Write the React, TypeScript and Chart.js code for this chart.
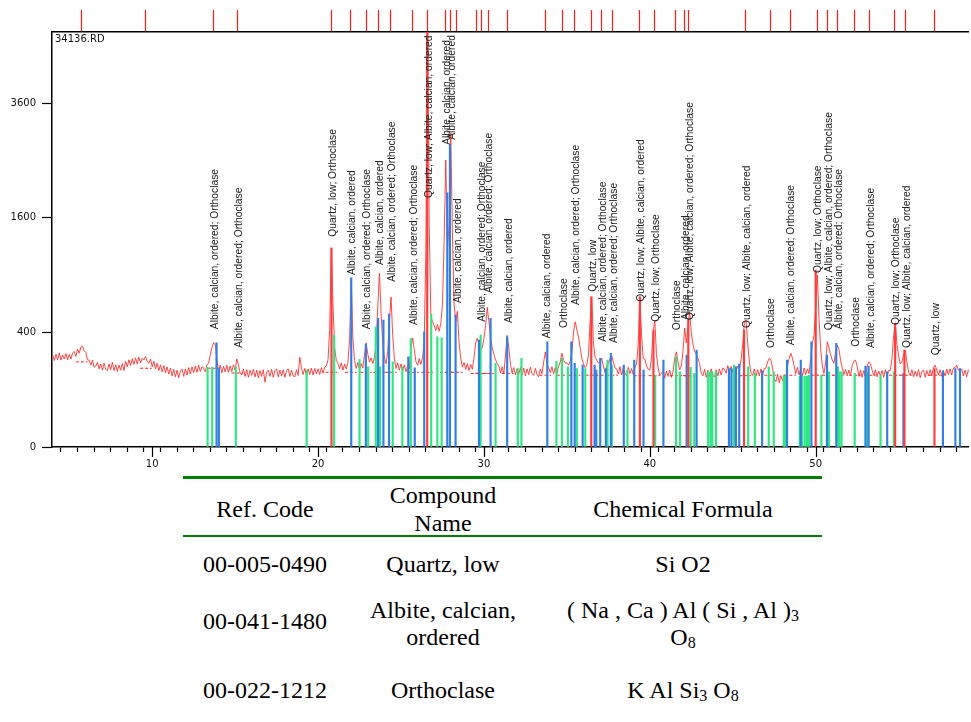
import React, { useEffect, useRef } from 'react';
import { Chart, registerables } from 'chart.js';

Chart.register(...registerables);

// ---- Scan (counts per 0.1 deg step, starting at 4.0 deg 2theta) ----
const SCAN_START = 4.0;
const SCAN_STEP = 0.1;
const scanFile = '34136.RD';

const scan04to13 = [
  258, 228, 262, 232, 270, 230, 258, 236, 266, 232,
  262, 236, 270, 278, 250, 292, 268, 304, 310, 282,
  272, 232, 230, 204, 230, 194, 200, 218, 186, 210,
  180, 214, 184, 178, 210, 182, 218, 178, 206, 174,
  204, 180, 212, 178, 224, 196, 232, 202, 238, 208,
  242, 210, 246, 216, 240, 230, 250, 222, 214, 236,
  196, 224, 186, 214, 178, 206, 172, 202, 168, 196,
  162, 190, 154, 184, 150, 180, 146, 176, 184, 152,
  186, 158, 192, 162, 196, 168, 200, 170, 204, 174,
  196, 190, 172, 206, 214, 258, 300, 332, 318, 232,
];
const scan14to23 = [
  176, 204, 168, 198, 172, 204, 170, 200, 174, 206,
  180, 236, 206, 168, 158, 186, 152, 182, 148, 180,
  156, 184, 150, 180, 146, 178, 152, 182, 128, 170,
  180, 152, 184, 148, 178, 186, 150, 180, 154, 182,
  148, 178, 186, 152, 180, 154, 150, 182, 156, 245,
  192, 160, 188, 154, 186, 160, 190, 158, 188, 162,
  186, 160, 192, 166, 194, 200, 232, 420, 1210, 620,
  300, 228, 212, 186, 216, 180, 210, 186, 218, 350,
  860, 360, 228, 188, 218, 182, 212, 190, 262, 330,
  262, 220, 242, 212, 246, 330, 600, 920, 545, 330,
];
const scan24to33 = [
  240, 212, 280, 480, 685, 380, 238, 188, 216, 180,
  210, 176, 206, 172, 202, 186, 300, 362, 290, 222,
  204, 238, 208, 242, 340, 1200, 6400, 1500, 520, 480,
  450, 414, 458, 408, 466, 620, 1300, 2510, 1200, 1500,
  3000, 1400, 620, 480, 560, 330, 242, 194, 218, 184,
  212, 178, 208, 184, 240, 330, 360, 320, 290, 300,
  360, 450, 595, 480, 360, 300, 262, 232, 212, 200,
  166, 196, 162, 260, 380, 300, 206, 168, 192, 158,
  188, 162, 192, 156, 190, 154, 186, 160, 194, 164,
  156, 188, 160, 150, 186, 164, 220, 276, 210, 190,
];
const scan34to43 = [
  168, 196, 164, 192, 166, 198, 220, 268, 230, 214,
  216, 204, 224, 270, 400, 478, 420, 370, 300, 240,
  210, 192, 204, 260, 480, 688, 330, 246, 230, 215,
  220, 240, 200, 170, 200, 210, 240, 257, 220, 190,
  186, 162, 196, 158, 192, 166, 154, 194, 164, 188,
  160, 192, 210, 320, 688, 380, 240, 236, 200, 185,
  180, 240, 400, 491, 260, 192, 156, 162, 180, 144,
  176, 152, 180, 148, 172, 240, 276, 220, 182, 200,
  280, 431, 330, 450, 557, 400, 320, 280, 260, 240,
  212, 166, 154, 184, 148, 180, 152, 186, 156, 150,
];
const scan44to53 = [
  182, 154, 186, 158, 190, 184, 166, 202, 174, 198,
  170, 204, 176, 200, 186, 230, 320, 470, 491, 330,
  220, 166, 156, 186, 152, 182, 154, 186, 158, 188,
  190, 220, 240, 230, 190, 142, 130, 162, 126, 156,
  134, 160, 130, 200, 240, 268, 240, 200, 164, 194,
  158, 188, 154, 190, 160, 186, 164, 240, 330, 380,
  600, 902, 500, 290, 200, 165, 220, 337, 300, 260,
  230, 214, 280, 316, 290, 230, 190, 160, 184, 154,
  180, 156, 200, 225, 230, 200, 152, 180, 148, 178,
  152, 200, 221, 210, 180, 156, 182, 150, 176, 154,
];
const scan54to59 = [
  178, 148, 182, 152, 178, 178, 240, 380, 468, 320,
  250, 210, 220, 260, 286, 220, 170, 156, 182, 150,
  176, 152, 182, 146, 174, 180, 148, 178, 154, 182,
  156, 190, 205, 180, 158, 182, 152, 178, 154, 184,
  160, 186, 158, 190, 192, 204, 180, 178, 186, 154,
  180, 150, 182, 156,
];

// ---- Peak list ----
const Q = 'Quartz, low';
const A = 'Albite, calcian, ordered';
const O = 'Orthoclase';

const peakPositions = [
  5.75, 9.62, 13.69, 15.13, 20.8, 21.97, 22.89, 23.67, 24.39, 25.72,
  26.58, 27.7, 28.0, 28.36, 29.55, 29.83, 30.25, 31.43, 33.7, 34.74,
  35.46, 36.48, 37.07, 37.73, 39.37, 40.27, 41.57, 42.11, 42.35, 45.75,
  47.25, 48.46, 50.08, 50.74, 51.34, 52.36, 53.27, 54.77, 55.43, 57.18,
];
const peakPhases = [
  [], [], [A, O], [A, O], [Q, O], [A], [A, O], [A], [A, O], [A, O],
  [Q, A], [A], [A], [A], [], [A, O], [A, O], [A], [A], [O],
  [A, O], [Q], [A, O], [A, O], [Q, A], [Q, O], [O], [A], [Q, A, O], [Q, A],
  [O], [A, O], [Q, O], [Q, A, O], [A, O], [O], [A, O], [Q, O], [Q, A], [Q],
];
const labelBaseCounts = [
  0, 0, 423, 300, 1348, 901, 423, 1009, 832, 453,
  1890, 2782, 2875, 631, 0, 478, 722, 468, 360, 431,
  614, 734, 337, 329, 643, 478, 416, 491, 491, 431,
  298, 316, 922, 416, 423, 306, 298, 453, 298, 257,
];
const peakBackground = [
  221, 189, 189, 167, 170, 170, 170, 170, 170, 170,
  170, 170, 170, 170, 165, 165, 165, 165, 157, 157,
  157, 157, 157, 157, 155, 155, 155, 155, 155, 155,
  157, 157, 157, 157, 157, 157, 157, 157, 157, 157,
];

// ---- Reference patterns ----
const quartzPositions = [20.81, 26.58, 36.47, 39.4, 40.22, 42.32, 45.68, 50.0, 54.79, 55.35, 57.16];
const quartzHeights = [1207, 5490, 688, 688, 416, 491, 416, 954, 468, 286, 188];

const albitePositions = [
  13.88, 14.02, 22.0, 22.88, 23.62, 23.94, 24.28, 25.44, 25.83, 26.4,
  27.79, 27.95, 28.29, 29.7, 30.4, 31.4, 33.82, 35.27, 35.47, 35.95,
  36.67, 36.77, 37.01, 37.35, 37.65, 38.43, 39.06, 39.62, 40.82, 42.22,
  42.82, 44.77, 44.92, 45.19, 45.39, 46.77, 48.27, 49.1, 49.74, 50.68,
  51.24, 53.0, 53.19, 54.31, 55.29, 57.67, 58.42, 58.7,
];
const albiteHeights = [
  331, 189, 873, 322, 504, 491, 538, 248, 191, 404,
  1967, 2782, 530, 348, 504, 370, 337, 337, 213, 204,
  204, 180, 239, 188, 267, 204, 230, 180, 230, 257,
  286, 188, 188, 196, 209, 177, 230, 230, 337, 257,
  327, 199, 199, 172, 165, 177, 188, 188,
];

const orthoclasePositions = [
  13.34, 13.62, 15.04, 19.31, 20.97, 22.5, 23.02, 23.48, 23.74, 24.5,
  25.08, 25.59, 26.82, 27.19, 27.45, 29.8, 30.7, 32.04, 32.26, 34.37,
  34.7, 35.06, 35.6, 36.11, 37.45, 37.71, 38.65, 40.32, 41.58, 41.82,
  42.46, 42.68, 43.52, 43.66, 43.76, 43.99, 45.07, 45.93, 46.33, 47.17,
  47.47, 48.08, 48.17, 49.04, 49.19, 49.34, 49.48, 49.6, 50.34, 50.8,
  51.34, 51.44, 51.56, 52.35, 53.1, 53.91, 54.71,
];
const orthoclaseHeights = [
  194, 194, 194, 180, 381, 233, 196, 440, 196, 221,
  196, 359, 538, 370, 363, 381, 213, 188, 239, 224,
  239, 196, 188, 188, 230, 204, 180, 157, 248, 172,
  193, 165, 172, 172, 172, 172, 204, 196, 165, 196,
  172, 153, 153, 153, 153, 153, 153, 157, 157, 172,
  196, 172, 172, 165, 172, 157, 172,
];

// ---- Axes ----
const X_MIN = 3.96;
const X_MAX = 59.22;
const Y_MAX_COUNTS = 5249;
const yTickCounts = [0, 400, 1600, 3600];
const xTickLabels = [10, 20, 30, 40, 50];

// ---- Phase table ----
const refCodes = ['00-005-0490', '00-041-1480', '00-022-1212'];
const compoundNames = [['Quartz, low'], ['Albite, calcian,', 'ordered'], ['Orthoclase']];
// even index = normal text, odd index = subscript
const formulaLines = [
  [['Si O2']],
  [['( Na , Ca ) Al ( Si , Al )', '3'], ['O', '8']],
  [['K Al Si', '3', ' O', '8']],
];

const sq = (v: number) => Math.sqrt(v);

function buildScan() {
  const counts = [...scan04to13, ...scan14to23, ...scan24to33, ...scan34to43, ...scan44to53, ...scan54to59];
  return counts.map((c, i) => ({ x: +(SCAN_START + i * SCAN_STEP).toFixed(2), y: sq(c) }));
}

function buildSticks(pos: number[], h: number[]) {
  return pos.map((p, i) => ({ x: p, y: sq(h[i]) }));
}

function buildBaselines() {
  const pts: { x: number; y: number | null }[] = [];
  peakPositions.forEach((p, i) => {
    const b = sq(peakBackground[i]);
    pts.push({ x: p - 0.35, y: b }, { x: p + 0.35, y: b }, { x: p + 0.36, y: null });
  });
  return pts;
}

const annotations = {
  id: 'xrdAnnotations',
  afterDraw(chart: any) {
    const { ctx, chartArea, scales } = chart;
    const xs = scales.x;
    const ys = scales.y;
    ctx.save();
    // longer marks at labelled x ticks
    ctx.strokeStyle = '#000';
    ctx.lineWidth = 1.2;
    xTickLabels.forEach((v) => {
      const px = Math.round(xs.getPixelForValue(v)) + 0.5;
      ctx.beginPath();
      ctx.moveTo(px, chartArea.bottom);
      ctx.lineTo(px, chartArea.bottom + 10);
      ctx.stroke();
    });
    // scan file name
    ctx.fillStyle = '#111';
    ctx.font = '10px "DejaVu Sans", sans-serif';
    ctx.textAlign = 'left';
    ctx.textBaseline = 'top';
    ctx.fillText(scanFile, chartArea.left + 3, chartArea.top + 2);
    // phase labels above peaks
    ctx.font = '10.3px "Liberation Sans", Arial, sans-serif';
    ctx.fillStyle = '#222';
    ctx.textBaseline = 'middle';
    peakPositions.forEach((p, i) => {
      const text = peakPhases[i].join('; ');
      if (!text) return;
      const px = xs.getPixelForValue(p) + 1.5;
      const py = ys.getPixelForValue(sq(labelBaseCounts[i]));
      ctx.save();
      ctx.translate(px, py);
      ctx.rotate(-Math.PI / 2);
      ctx.fillText(text, 0, 0);
      ctx.restore();
    });
    ctx.restore();
  },
};

const tickFont = { family: '"DejaVu Sans", sans-serif', size: 10 };

export default function App() {
  const canvasRef = useRef<HTMLCanvasElement>(null);

  useEffect(() => {
    const canvas = canvasRef.current;
    if (!canvas) return;
    const chart = new Chart(canvas, {
      type: 'line',
      data: {
        datasets: [
          {
            type: 'line',
            label: scanFile,
            data: buildScan(),
            borderColor: 'rgba(255,40,40,0.85)',
            borderWidth: 1,
            pointRadius: 0,
            tension: 0,
            order: 10,
          },
          {
            type: 'line',
            label: 'background',
            data: buildBaselines(),
            borderColor: '#ff2020',
            borderWidth: 1,
            borderDash: [3, 2],
            pointRadius: 0,
            spanGaps: false,
            order: 9,
          },
          {
            type: 'bar',
            label: O,
            data: buildSticks(orthoclasePositions, orthoclaseHeights),
            backgroundColor: '#2fe683',
            barThickness: 1.5,
            grouped: false,
            order: 3,
          },
          {
            type: 'bar',
            label: A,
            data: buildSticks(albitePositions, albiteHeights),
            backgroundColor: '#2f7fe6',
            barThickness: 1.5,
            grouped: false,
            order: 2,
          },
          {
            type: 'bar',
            label: Q,
            data: buildSticks(quartzPositions, quartzHeights),
            backgroundColor: '#ff3b3b',
            barThickness: 1.5,
            grouped: false,
            order: 1,
          },
        ] as any,
      },
      options: {
        responsive: false,
        animation: false,
        devicePixelRatio: 1,
        layout: { padding: 0 },
        plugins: { legend: { display: false }, tooltip: { enabled: false } },
        scales: {
          x: {
            type: 'linear',
            position: 'bottom',
            min: X_MIN,
            max: X_MAX,
            offset: false,
            afterBuildTicks: (s: any) => {
              const t = [];
              for (let v = Math.ceil(X_MIN); v <= Math.floor(X_MAX); v++) t.push({ value: v });
              s.ticks = t;
            },
            afterFit: (s: any) => {
              s.height = 28;
            },
            grid: { display: true, drawOnChartArea: false, drawTicks: true, tickLength: 5, tickColor: '#000', tickWidth: 1.2 },
            border: { display: true, color: '#000', width: 1.5 },
            ticks: {
              autoSkip: false,
              maxRotation: 0,
              padding: 6,
              color: '#111',
              font: tickFont,
              callback: (v: any) => (xTickLabels.includes(Number(v)) ? String(v) : ''),
            },
          },
          xTop: {
            type: 'linear',
            position: 'top',
            min: X_MIN,
            max: X_MAX,
            offset: false,
            afterBuildTicks: (s: any) => {
              s.ticks = peakPositions.map((v) => ({ value: v }));
            },
            afterFit: (s: any) => {
              s.height = 32;
            },
            grid: { display: true, drawOnChartArea: false, drawTicks: true, tickLength: 22, tickColor: '#ff1a1a', tickWidth: 1.2 },
            border: { display: true, color: '#000', width: 1.5 },
            ticks: { display: false, autoSkip: false },
          },
          y: {
            type: 'linear',
            position: 'left',
            min: 0,
            max: sq(Y_MAX_COUNTS),
            afterBuildTicks: (s: any) => {
              s.ticks = yTickCounts.map((c) => ({ value: sq(c) }));
            },
            afterFit: (s: any) => {
              s.width = 52;
            },
            grid: { display: true, drawOnChartArea: false, drawTicks: true, tickLength: 10, tickColor: '#000', tickWidth: 1.2 },
            border: { display: true, color: '#000', width: 1.5 },
            ticks: {
              padding: 6,
              color: '#111',
              font: tickFont,
              callback: (v: any) => String(Math.round(Number(v) * Number(v))),
            },
          },
        },
      } as any,
      plugins: [annotations],
    });
    return () => chart.destroy();
  }, []);

  const serif = '"Liberation Serif", "Times New Roman", serif';
  const line = (cx: number, baseline: number, content: React.ReactNode, key?: string) => (
    <div
      key={key}
      style={{
        position: 'absolute',
        left: cx - 200,
        width: 400,
        top: baseline - 22,
        lineHeight: '28px',
        fontSize: 24,
        textAlign: 'center',
        fontFamily: serif,
        color: '#000',
        whiteSpace: 'nowrap',
      }}
    >
      {content}
    </div>
  );
  const formula = (parts: string[]) =>
    parts.map((p, i) =>
      i % 2 === 1 ? (
        <span key={i} style={{ fontSize: 16, verticalAlign: '-3px' }}>
          {p}
        </span>
      ) : (
        <span key={i}>{p}</span>
      )
    );

  const rowBaselines = [571.7, 629.3, 698];
  const rowFirstLine = [571.7, 618, 698];

  return (
    <div style={{ position: 'absolute', left: 0, top: 0, width: 971, height: 722, overflow: 'hidden', background: '#fff' }}>
      <canvas ref={canvasRef} width={971} height={475} style={{ position: 'absolute', left: 0, top: 0, width: 971, height: 475 }} />
      <div style={{ position: 'absolute', left: 183, top: 476, width: 639, height: 3, background: '#008000' }} />
      <div style={{ position: 'absolute', left: 183, top: 535, width: 639, height: 2, background: '#008000' }} />
      {line(265, 516.7, 'Ref. Code', 'h1')}
      {line(443, 503, 'Compound', 'h2a')}
      {line(443, 531, 'Name', 'h2b')}
      {line(683, 516.7, 'Chemical Formula', 'h3')}
      {refCodes.map((c, i) => line(265, rowBaselines[i], c, 'c' + i))}
      {compoundNames.map((lines, i) => lines.map((t, j) => line(443, rowFirstLine[i] + j * 27, t, 'n' + i + j)))}
      {formulaLines.map((lines, i) => lines.map((parts, j) => line(683, rowFirstLine[i] + j * 27, formula(parts), 'f' + i + j)))}
    </div>
  );
}
